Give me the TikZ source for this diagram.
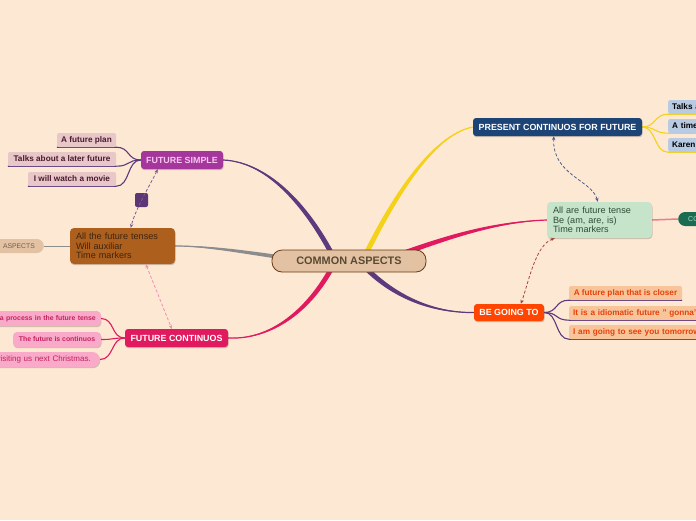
\documentclass[tikz,border=0pt]{standalone}
\usepackage{fontspec}
\setmainfont{Liberation Sans}
\usetikzlibrary{calc,arrows.meta,shadows}
\pgfdeclarelayer{back}
\pgfsetlayers{back,main}
\definecolor{bgc}{HTML}{FDE8D3}
\definecolor{caFill}{HTML}{E3C2A3}
\definecolor{caDraw}{HTML}{6B3A12}
\definecolor{caText}{HTML}{5A4A33}
\definecolor{fsFill}{HTML}{A5369C}
\definecolor{fsText}{HTML}{F6C8EE}
\definecolor{fsChild}{HTML}{E7C7C8}
\definecolor{fsChildText}{HTML}{4A1A2E}
\definecolor{purpleLine}{HTML}{5C3A7E}
\definecolor{sqFill}{HTML}{5E3676}
\definecolor{brFill}{HTML}{AD5F1D}
\definecolor{brText}{HTML}{3E2510}
\definecolor{aspText}{HTML}{6E5E4E}
\definecolor{fcFill}{HTML}{E1195F}
\definecolor{fcChild}{HTML}{F8AAC8}
\definecolor{fcChildText}{HTML}{C62262}
\definecolor{pcFill}{HTML}{1D4477}
\definecolor{pcChild}{HTML}{B9CBE3}
\definecolor{yellowLine}{HTML}{F5D21A}
\definecolor{grFill}{HTML}{C6E4C9}
\definecolor{grText}{HTML}{2E4A36}
\definecolor{coFill}{HTML}{1B6B52}
\definecolor{coText}{HTML}{A6DEC6}
\definecolor{coLine}{HTML}{F07A90}
\definecolor{bgoFill}{HTML}{FF4500}
\definecolor{bgoChild}{HTML}{F8C59B}
\definecolor{bgoChildText}{HTML}{E8400A}
\definecolor{grayLine}{HTML}{8C8C8C}
\definecolor{dashA}{HTML}{7D5C8F}
\definecolor{dashB}{HTML}{F28DB4}
\definecolor{dashC}{HTML}{4A5F8F}
\definecolor{dashD}{HTML}{A6443C}

\newcommand{\mmtaper}[6]{%
  \fill[#1] ($#2+(#6)$) .. controls ($#3+(#6)$) and ($#4+0.5*(#6)$) .. #5
     .. controls ($#4-0.5*(#6)$) and ($#3-(#6)$) .. ($#2-(#6)$) -- cycle;
  \draw[#1,line width=1.2pt] #2 .. controls #3 and #4 .. #5;}

\tikzset{
  box/.style={inner sep=0pt, rounded corners=3pt},
  shad/.style={drop shadow={shadow xshift=0.5pt, shadow yshift=-1.2pt, opacity=0.18, fill=black}},
  ca/.style={box, minimum width=154pt, minimum height=22pt, rounded corners=10pt, fill=caFill, draw=caDraw, line width=0.8pt, text=caText, font=\bfseries\fontsize{10.9}{12}\selectfont},
  mainbox/.style={box, shad, minimum height=18pt, text=white, font=\bfseries\fontsize{8.9}{10}\selectfont},
  fschild/.style={box, minimum height=14pt, fill=fsChild, text=fsChildText, font=\bfseries\fontsize{8.2}{10}\selectfont, rounded corners=2pt},
  fcchild/.style={box, shad, minimum height=15pt, fill=fcChild, text=fcChildText, font=\bfseries\fontsize{6.9}{8}\selectfont, rounded corners=4pt},
  pcchild/.style={box, minimum height=14pt, fill=pcChild, text=black, font=\bfseries\fontsize{8.2}{10}\selectfont, rounded corners=2pt, anchor=west, text width=40pt, align=left, inner xsep=4pt},
  bgchild/.style={box, minimum height=14pt, fill=bgoChild, text=bgoChildText, font=\bfseries\fontsize{8.2}{10}\selectfont, rounded corners=2pt},
  multi/.style={box, shad, minimum height=36pt, text width=93pt, align=left, inner xsep=6pt, rounded corners=4pt, font=\fontsize{9.1}{9.6}\selectfont},
  sub/.style={line width=1.1pt},
  dashar/.style={line width=0.8pt, dash pattern=on 3pt off 2pt, {Stealth[length=4pt,width=3.5pt]}-{Stealth[length=4pt,width=3.5pt]}}
}

\begin{document}
\begin{tikzpicture}[x=1pt,y=-1pt]
\useasboundingbox (0,0) rectangle (696,520);

% nodes
\node[ca] (ca) at (349,261) {COMMON ASPECTS};

\node[mainbox, fill=fsFill, text=fsText, minimum width=82pt] (fs) at (182,160) {FUTURE SIMPLE};
\node[fschild, minimum width=59pt] (fs1) at (86.5,140) {A future plan};
\node[fschild, minimum width=108pt] (fs2) at (62,159) {Talks about a later future};
\node[fschild, minimum width=88pt] (fs3) at (72,179) {I will watch a movie};
\node[box, fill=sqFill, rounded corners=2pt, minimum width=13pt, minimum height=14pt] (sq) at (141.5,200) {};

\node[multi, fill=brFill, text=brText] (br) at (122.5,246) {All the future tenses\\Will auxiliar\\Time markers};
\node[box, fill=caFill, text=aspText, minimum height=14pt, rounded corners=7pt, anchor=east, text width=40pt, align=right, inner xsep=9pt, font=\fontsize{6.8}{8}\selectfont] (asp) at (44,246) {ASPECTS};

\node[mainbox, fill=fcFill, minimum width=103pt] (fc) at (176.5,338) {FUTURE CONTINUOS};
\node[fcchild, anchor=east, text width=120pt, align=right, inner xsep=5pt] (fc1) at (101,318.5) {a process in the future tense};
\node[fcchild, minimum width=88pt] (fc2) at (57,339.5) {The future is continuos};
\node[fcchild, anchor=east, text width=110pt, align=right, inner xsep=9pt, rounded corners=7.5pt, font=\fontsize{8}{9}\selectfont] (fc3) at (100,359.5) {visiting us next Christmas.};

\node[mainbox, fill=pcFill, minimum width=169pt] (pc) at (557.5,127) {PRESENT CONTINUOS FOR FUTURE};
\node[pcchild] (pc1) at (668,107) {Talks a};
\node[pcchild] (pc2) at (668,126) {A time};
\node[pcchild] (pc3) at (668,145) {Karen};

\node[multi, fill=grFill, text=grText] (gr) at (599.5,220) {All are future tense\\Be (am, are, is)\\Time markers};
\node[box, fill=coFill, text=coText, minimum height=14pt, rounded corners=7pt, anchor=west, text width=30pt, align=left, inner xsep=10pt, font=\fontsize{7}{8}\selectfont] (co) at (678,219) {CO};

\node[mainbox, fill=bgoFill, minimum width=70pt, minimum height=17pt] (bg) at (509,312.5) {BE GOING TO};
\node[bgchild, minimum width=113pt] (bg1) at (625.5,293) {A future plan that is closer};
\node[bgchild, anchor=west, text width=140pt, align=left, inner xsep=4pt] (bg2) at (569,313) {It is a idiomatic future " gonna"};
\node[bgchild, anchor=west, text width=140pt, align=left, inner xsep=4pt] (bg3) at (569,332) {I am going to see you tomorrow};

% background layer: connectors
\begin{pgfonlayer}{back}
\fill[bgc] (0,0) rectangle (696,520);
\mmtaper{purpleLine}{(336,262)}{(310,210)}{(270,162)}{(fs.east)}{2.2,-1.1}
\mmtaper{fcFill}{(336,260)}{(310,312)}{(270,340)}{(fc.east)}{2.2,1.1}
\mmtaper{yellowLine}{(362,262)}{(392,200)}{(432,135)}{(pc.west)}{2.25,1.1}
\mmtaper{fcFill}{(390,258)}{(440,240)}{(490,222)}{(gr.west)}{0.85,2.35}
\mmtaper{purpleLine}{(360,262)}{(390,295)}{(430,313)}{(bg.west)}{1.85,-1.7}
\mmtaper{grayLine}{(300,260)}{(250,253)}{(210,246)}{(br.east)}{0,2}

\draw[purpleLine, sub] (fs.west) .. controls +(-14,0) and +(14,0) .. (fs1.south east) -- (fs1.south west);
\draw[purpleLine, sub] (fs.west) .. controls +(-14,0) and +(14,0) .. (fs2.south east) -- (fs2.south west);
\draw[purpleLine, sub] (fs.west) .. controls +(-14,0) and +(14,0) .. (fs3.south east) -- (fs3.south west);

\draw[fcFill, sub] (fc.west) .. controls +(-14,0) and +(14,0) .. (fc1.east);
\draw[fcFill, sub] (fc.west) .. controls +(-14,0) and +(14,0) .. (fc2.east);
\draw[fcFill, sub] (fc.west) .. controls +(-14,0) and +(14,0) .. (fc3.east);

\draw[yellowLine, sub] (pc.east) .. controls +(14,0) and +(-14,0) .. (pc1.south west) -- (pc1.south east);
\draw[yellowLine, sub] (pc.east) .. controls +(14,0) and +(-14,0) .. (pc2.south west) -- (pc2.south east);
\draw[yellowLine, sub] (pc.east) .. controls +(14,0) and +(-14,0) .. (pc3.south west) -- (pc3.south east);

\draw[purpleLine, sub] (bg.east) .. controls +(14,0) and +(-14,0) .. (bg1.south west) -- (bg1.south east);
\draw[purpleLine, sub] (bg.east) .. controls +(14,0) and +(-14,0) .. (bg2.south west) -- (bg2.south east);
\draw[purpleLine, sub] (bg.east) .. controls +(14,0) and +(-14,0) .. (bg3.south west) -- (bg3.south east);

\draw[grayLine, line width=1pt] (br.west) -- (asp.east);
\draw[coLine, line width=1.5pt] (gr.east) -- (co.west);
\end{pgfonlayer}

% dashed relations
\draw[dashA, dashar] ($(fs.south west)+(17,0)$) .. controls (150,185) and (135,210) .. ($(br.north west)+(61,0)$);
\draw[dashB, dashar] ($(br.south west)+(76,0)$) -- ($(fc.north west)+(47,0)$);
\draw[dashC, dashar] ($(pc.south west)+(81,0)$) .. controls (552,175) and (592,180) .. ($(gr.north west)+(51,0)$);
\draw[dashD, dashar] ($(gr.south west)+(8,0)$) .. controls (535,245) and (528,285) .. ($(bg.north west)+(47,0)$);
\end{tikzpicture}
\end{document}
